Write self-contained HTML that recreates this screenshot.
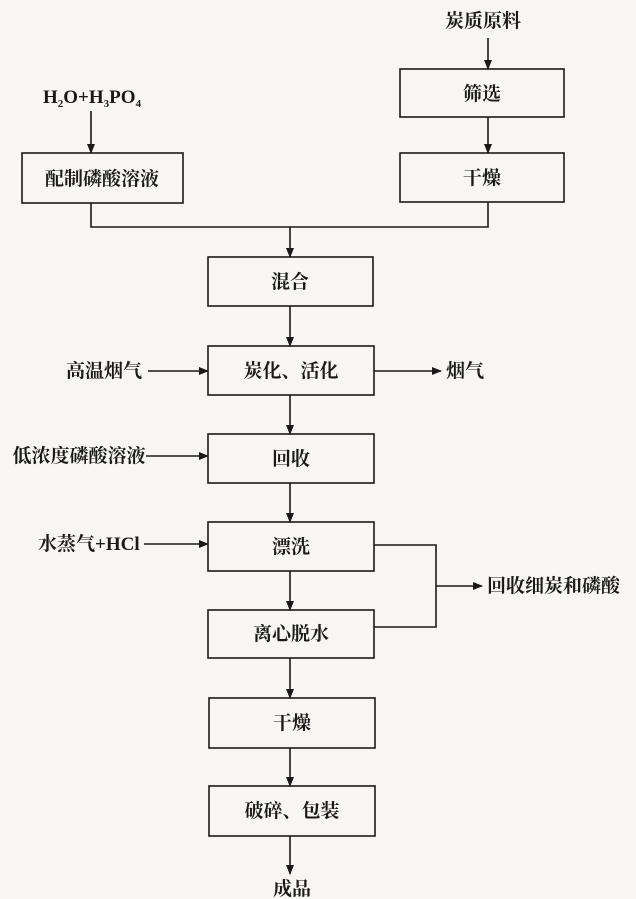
<!DOCTYPE html>
<html><head><meta charset="utf-8"><style>
html,body{margin:0;padding:0;background:#f7f6f3;}
svg{display:block}
text{font-family:"Liberation Serif","Noto Serif CJK SC",serif;font-size:19px;fill:#1a1a1a;font-weight:bold}
</style></head><body>
<svg width="636" height="899" viewBox="0 0 636 899">
<defs><marker id="a" markerWidth="10" markerHeight="8" refX="9" refY="4" orient="auto" markerUnits="userSpaceOnUse"><path d="M0,0 L10,4 L0,8 z" fill="#1a1a1a"/></marker></defs>
<g stroke="#1a1a1a" stroke-width="1.6" fill="none">
<rect x="400" y="69" width="164" height="48"/>
<rect x="400" y="153" width="164" height="49"/>
<rect x="22" y="153" width="161" height="50"/>
<rect x="208" y="257" width="165" height="49"/>
<rect x="208" y="346" width="166" height="49"/>
<rect x="208" y="434" width="166" height="49"/>
<rect x="208" y="522" width="166" height="49"/>
<rect x="208" y="610" width="166" height="48"/>
<rect x="209" y="698" width="166" height="50"/>
<rect x="209" y="786" width="166" height="50"/>
<line x1="488" y1="38" x2="488" y2="69" marker-end="url(#a)"/>
<line x1="488" y1="117" x2="488" y2="153" marker-end="url(#a)"/>
<line x1="91" y1="111" x2="91" y2="153" marker-end="url(#a)"/>
<polyline points="91,203 91,227 488,227 488,202"/>
<line x1="290" y1="227" x2="290" y2="257" marker-end="url(#a)"/>
<line x1="290" y1="306" x2="290" y2="346" marker-end="url(#a)"/>
<line x1="290" y1="395" x2="290" y2="434" marker-end="url(#a)"/>
<line x1="290" y1="483" x2="290" y2="522" marker-end="url(#a)"/>
<line x1="290" y1="571" x2="290" y2="610" marker-end="url(#a)"/>
<line x1="290" y1="658" x2="290" y2="698" marker-end="url(#a)"/>
<line x1="290" y1="748" x2="290" y2="786" marker-end="url(#a)"/>
<line x1="290" y1="836" x2="290" y2="874" marker-end="url(#a)"/>
<line x1="148" y1="371" x2="208" y2="371" marker-end="url(#a)"/>
<line x1="374" y1="371" x2="441" y2="371" marker-end="url(#a)"/>
<line x1="146" y1="456" x2="208" y2="456" marker-end="url(#a)"/>
<line x1="144" y1="544" x2="208" y2="544" marker-end="url(#a)"/>
<polyline points="374,545 436,545 436,627 374,627"/>
<line x1="436" y1="586" x2="482" y2="586" marker-end="url(#a)"/>
</g>
<text x="483" y="27" text-anchor="middle" font-size="18" font-weight="normal">炭质原料</text>
<text x="43" y="103" font-size="17" font-weight="normal">H<tspan font-size="11" dy="4">2</tspan><tspan dy="-4">O+H</tspan><tspan font-size="11" dy="4">3</tspan><tspan dy="-4">PO</tspan><tspan font-size="11" dy="4">4</tspan></text>
<text x="482" y="100" text-anchor="middle">筛选</text>
<text x="482" y="184" text-anchor="middle">干燥</text>
<text x="102" y="185" text-anchor="middle">配制磷酸溶液</text>
<text x="290" y="288" text-anchor="middle">混合</text>
<text x="291" y="377" text-anchor="middle">炭化、活化</text>
<text x="104" y="377" text-anchor="middle">高温烟气</text>
<text x="446" y="377">烟气</text>
<text x="291" y="465" text-anchor="middle">回收</text>
<text x="79" y="462" text-anchor="middle">低浓度磷酸溶液</text>
<text x="291" y="553" text-anchor="middle">漂洗</text>
<text x="38" y="550" font-size="18" font-weight="normal">水蒸气+HCl</text>
<text x="487" y="592">回收细炭和磷酸</text>
<text x="291" y="640" text-anchor="middle">离心脱水</text>
<text x="292" y="729" text-anchor="middle">干燥</text>
<text x="292" y="817" text-anchor="middle">破碎、包装</text>
<text x="292" y="895" text-anchor="middle">成品</text>
</svg>
</body></html>
